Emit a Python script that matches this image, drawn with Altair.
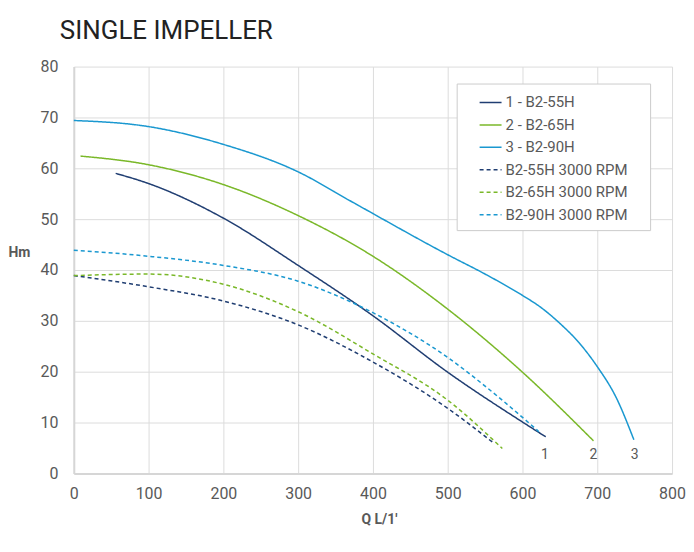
import altair as alt
import pandas as pd

# ---- data ----
series_names = ["1 - B2-55H", "2 - B2-65H", "3 - B2-90H",
                "B2-55H 3000 RPM", "B2-65H 3000 RPM", "B2-90H 3000 RPM"]

q_55 = [56, 100, 200, 300, 400, 500, 600, 631]
h_55 = [59.0, 57.0, 50.2, 40.9, 31.0, 19.9, 10.1, 7.2]

q_65 = [9, 100, 200, 300, 400, 500, 600, 695]
h_65 = [62.4, 60.7, 56.8, 50.7, 42.7, 32.3, 19.9, 6.4]

q_90 = [0, 100, 200, 300, 372, 500, 550, 600, 625, 650, 675, 700, 725, 749]
h_90 = [69.4, 68.2, 64.7, 59.3, 53.4, 43.0, 39.2, 35.0, 32.6, 29.5, 25.8, 21.0, 15.0, 6.6]

q_55r = [0, 100, 200, 300, 400, 500, 562]
h_55r = [38.9, 36.7, 33.9, 29.2, 21.9, 12.8, 5.9]

q_65r = [0, 100, 200, 300, 400, 500, 573]
h_65r = [38.9, 39.2, 37.2, 31.8, 23.5, 14.4, 4.9]

q_90r = [0, 100, 200, 300, 400, 500, 568, 622]
h_90r = [43.9, 42.7, 40.9, 37.8, 31.6, 22.8, 15.0, 8.2]

end_labels = ["1", "2", "3"]
end_q = [630, 695, 750]
end_h = [3.6, 3.6, 3.6]

colors = ["#203e72", "#7ab829", "#1a98d0", "#203e72", "#7ab829", "#1a98d0"]
dashes = [[1, 0], [1, 0], [1, 0], [4, 3], [4, 3], [4, 3]]

rows = []
for name, qs, hs in zip(series_names,
                        [q_55, q_65, q_90, q_55r, q_65r, q_90r],
                        [h_55, h_65, h_90, h_55r, h_65r, h_90r]):
    for q, h in zip(qs, hs):
        rows.append({"series": name, "Q": q, "H": h})
df = pd.DataFrame(rows)
lab_df = pd.DataFrame({"label": end_labels, "Q": end_q, "H": end_h})

FONT = "Roboto"
LEXPR = "datum.label + '\u2003\u200b'"

x_scale = alt.Scale(domain=[0, 800], nice=False)
y_scale = alt.Scale(domain=[0, 80], nice=False)

leg = alt.Legend(title=None, labelExpr=LEXPR)

lines = alt.Chart(df).mark_line(interpolate="monotone", strokeWidth=1.5).encode(
    x=alt.X("Q:Q", scale=x_scale,
            axis=alt.Axis(values=list(range(0, 801, 100)), title="Q L/1'",
                          titleFontWeight="bold", titleFontSize=14, titleColor="#595959",
                          titlePadding=11, labelPadding=12, labelFlush=False,
                          titleX=306)),
    y=alt.Y("H:Q", scale=y_scale,
            axis=alt.Axis(values=list(range(0, 81, 10)), title="Hm",
                          titleAngle=0, titleAlign="left", titleBaseline="middle",
                          titleX=-66, titleY=186, labelFlush=False,
                          titleFontWeight="bold", titleFontSize=14, titleColor="#595959",
                          labelPadding=16)),
    color=alt.Color("series:N",
                    scale=alt.Scale(domain=series_names, range=colors),
                    legend=leg),
    strokeDash=alt.StrokeDash("series:N",
                              scale=alt.Scale(domain=series_names, range=dashes),
                              legend=leg),
    detail="series:N",
)

labels = alt.Chart(lab_df).mark_text(fontSize=14, color="#595959", font=FONT).encode(
    x=alt.X("Q:Q", scale=x_scale),
    y=alt.Y("H:Q", scale=y_scale),
    text="label:N",
)

chart = alt.layer(lines, labels).properties(
    width=600,
    height=408,
    title=alt.TitleParams("SINGLE IMPELLER", anchor="start", frame="group", dx=-14, offset=15,
                          fontSize=26, fontWeight="normal", color="#222222", font=FONT),
    autosize=alt.AutoSizeParams(type="none"),
    padding={"left": 66, "top": 58, "right": 14, "bottom": 54},
).configure(
    font=FONT,
    background="white",
).configure_view(
    stroke=None,
).configure_axis(
    grid=True,
    gridColor="#dcdcdc",
    gridWidth=1,
    domainColor="#d6d6d6",
    domainWidth=2,
    ticks=False,
    labelFont=FONT,
    labelFontSize=16,
    labelColor="#595959",
    titleFont=FONT,
).configure_legend(
    orient="none",
    legendX=384,
    legendY=17,
    symbolType="stroke",
    symbolSize=484,
    symbolStrokeWidth=1.5,
    symbolOffset=15,
    labelFont=FONT,
    labelFontSize=15,
    labelColor="#595959",
    labelOffset=3,
    rowPadding=2.5,
    padding=7,
    strokeColor="#cccccc",
    fillColor="white",
    cornerRadius=0,
)

chart.save("out.html", embed_options={"renderer": "svg", "actions": False})
